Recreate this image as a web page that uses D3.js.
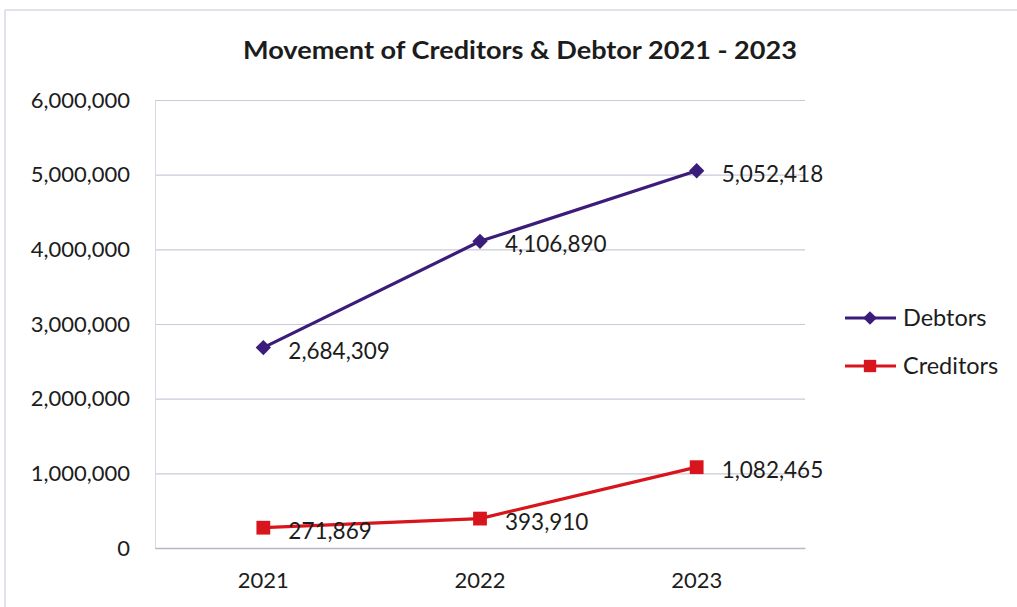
<!DOCTYPE html>
<html>
<head>
<meta charset="utf-8">
<script src="https://cdn.jsdelivr.net/npm/d3@7"></script>
<style>
  html, body { margin: 0; padding: 0; background: #ffffff; }
  svg { display: block; }
  text { font-family: Lato, "Open Sans", sans-serif; fill: #1c1c1c; }
</style>
</head>
<body>
<svg id="chart" width="1017" height="607"></svg>
<script>
// Year-end balances
const years = ["2021", "2022", "2023"];
const debtors = [2684309, 4106890, 5052418];
const creditors = [271869, 393910, 1082465];
const yTicks = [0, 1000000, 2000000, 3000000, 4000000, 5000000, 6000000];

const seriesList = [
  { name: "Debtors", values: debtors, color: "#3b1c7a", symbol: d3.symbolDiamond2, size: 150 },
  { name: "Creditors", values: creditors, color: "#d8151c", symbol: d3.symbolSquare, size: 190 }
];

const svg = d3.select("#chart");
const plot = { left: 155, right: 805, top: 100, bottom: 548 };

const x = d3.scaleBand().domain(years).range([plot.left, plot.right]);
const y = d3.scaleLinear().domain([0, 6000000]).range([plot.bottom, plot.top]);
const fmt = d3.format(",");

// outer frame edges
svg.append("line").attr("x1", 5).attr("x2", 1017).attr("y1", 10).attr("y2", 10)
  .attr("stroke", "#d6d8e6").attr("stroke-width", 1.5);
svg.append("line").attr("x1", 5).attr("x2", 5).attr("y1", 10).attr("y2", 607)
  .attr("stroke", "#d6d8e6").attr("stroke-width", 1.5);

// title
svg.append("text")
  .attr("x", 243).attr("y", 59)
  .attr("textLength", 554).attr("lengthAdjust", "spacingAndGlyphs")
  .style("font-weight", "bold").style("font-size", "25px")
  .text("Movement of Creditors & Debtor 2021 - 2023");

// horizontal gridlines
svg.append("g")
  .attr("transform", `translate(${plot.left},0)`)
  .call(d3.axisLeft(y).tickValues(yTicks).tickSize(-(plot.right - plot.left)).tickFormat(""))
  .call(g => g.select(".domain").remove())
  .call(g => g.selectAll(".tick line").attr("stroke", "#c9cad8").attr("stroke-width", 1.2));

// y axis labels
svg.append("g")
  .attr("transform", `translate(${plot.left},0)`)
  .call(d3.axisLeft(y).tickValues(yTicks).tickSize(0).tickPadding(25).tickFormat(fmt))
  .call(g => g.select(".domain").attr("stroke", "#d6d8e2").attr("stroke-width", 1))
  .call(g => g.selectAll(".tick text").style("font-size", "22px").attr("fill", "#1c1c1c")
    .style("font-family", "Lato, 'Open Sans', sans-serif"));

// x axis
svg.append("g")
  .attr("transform", `translate(0,${plot.bottom})`)
  .call(d3.axisBottom(x).tickSize(0).tickPadding(24))
  .call(g => g.select(".domain").attr("stroke", "#b8b9c6").attr("stroke-width", 1.3))
  .call(g => g.selectAll(".tick text").style("font-size", "22px").attr("fill", "#1c1c1c")
    .style("font-family", "Lato, 'Open Sans', sans-serif"));

const cx = d => x(d) + x.bandwidth() / 2;

seriesList.forEach(s => {
  const pts = years.map((yr, i) => ({ yr, v: s.values[i] }));
  const line = d3.line().x(d => cx(d.yr)).y(d => y(d.v));
  svg.append("path").datum(pts)
    .attr("d", line).attr("fill", "none")
    .attr("stroke", s.color).attr("stroke-width", 3.2);
  svg.append("g").selectAll("path").data(pts).join("path")
    .attr("transform", d => `translate(${cx(d.yr)},${y(d.v)})`)
    .attr("d", d3.symbol().type(s.symbol).size(s.size))
    .attr("fill", s.color);
  svg.append("g").selectAll("text").data(pts).join("text")
    .attr("x", d => cx(d.yr) + 25)
    .attr("y", d => y(d.v) + 11)
    .style("font-size", "22.5px")
    .text(d => fmt(d.v));
});

// legend
const legend = svg.append("g");
seriesList.forEach((s, i) => {
  const ly = 318 + i * 48;
  legend.append("line").attr("x1", 845).attr("x2", 896).attr("y1", ly).attr("y2", ly)
    .attr("stroke", s.color).attr("stroke-width", 3.2);
  legend.append("path")
    .attr("transform", `translate(870,${ly})`)
    .attr("d", d3.symbol().type(s.symbol).size(s.size * 0.8))
    .attr("fill", s.color);
  legend.append("text").attr("x", 903).attr("y", ly + 8)
    .style("font-size", "23.5px").text(s.name);
});
</script>
</body>
</html>
